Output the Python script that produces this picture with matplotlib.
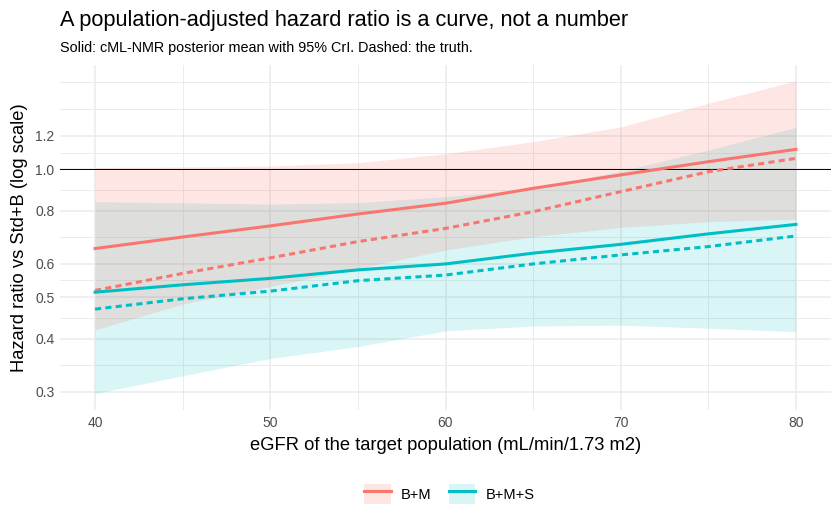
import matplotlib
matplotlib.use("Agg")
import matplotlib.pyplot as plt
from matplotlib.lines import Line2D
from matplotlib.patches import Patch
from matplotlib.ticker import FixedLocator, NullFormatter

plt.rcParams['font.family'] = ['Liberation Sans', 'DejaVu Sans']

# eGFR grid
egfr = [40, 45, 50, 55, 60, 65, 70, 75, 80]

# B+M : posterior mean, 95% CrI, truth
bm_mean = [0.651, 0.693, 0.736, 0.785, 0.832, 0.902, 0.970, 1.042, 1.114]
bm_lo = [0.419, 0.482, 0.530, 0.585, 0.646, 0.694, 0.730, 0.753, 0.763]
bm_hi = [1.010, 1.013, 1.018, 1.036, 1.088, 1.161, 1.258, 1.430, 1.615]
bm_true = [0.519, 0.569, 0.619, 0.676, 0.726, 0.795, 0.886, 0.987, 1.061]

# B+M+S
bms_mean = [0.514, 0.535, 0.554, 0.580, 0.599, 0.635, 0.666, 0.705, 0.742]
bms_lo = [0.297, 0.327, 0.359, 0.383, 0.417, 0.428, 0.430, 0.423, 0.415]
bms_hi = [0.839, 0.834, 0.828, 0.835, 0.862, 0.902, 0.990, 1.110, 1.255]
bms_true = [0.469, 0.496, 0.517, 0.547, 0.564, 0.599, 0.629, 0.658, 0.697]

y_breaks = [0.3, 0.4, 0.5, 0.6, 0.8, 1.0, 1.2]
y_labels = ["0.3", "0.4", "0.5", "0.6", "0.8", "1.0", "1.2"]
y_minor = [0.346, 0.447, 0.548, 0.693, 0.894, 1.095, 1.386, 1.6]

red = "#F8766D"
teal = "#00BFC4"

fig = plt.figure(figsize=(8.4, 5.28), dpi=100)
ax = fig.add_axes([60 / 840, 1 - 410 / 528, 771 / 840, 345 / 528])

ax.fill_between(egfr, bms_lo, bms_hi, color=teal, alpha=0.15, lw=0, zorder=2)
ax.fill_between(egfr, bm_lo, bm_hi, color=red, alpha=0.18, lw=0, zorder=2)
ax.axhline(1.0, color="black", lw=0.7, zorder=3)

ax.plot(egfr, bm_mean, color=red, lw=2.2, zorder=4)
ax.plot(egfr, bm_true, color=red, lw=2.2, dashes=(2, 1.4), zorder=4)
ax.plot(egfr, bms_true, color=teal, lw=2.2, dashes=(2, 1.4), zorder=4)
ax.plot(egfr, bms_mean, color=teal, lw=2.2, zorder=4)

ax.set_yscale("log")
ax.set_xlim(38, 82)
ax.set_ylim(0.2716, 1.759)
ax.yaxis.set_major_locator(FixedLocator(y_breaks))
ax.set_yticklabels(y_labels)
ax.yaxis.set_minor_locator(FixedLocator(y_minor))
ax.yaxis.set_minor_formatter(NullFormatter())
ax.set_xticks([40, 50, 60, 70, 80])
ax.set_xticks([45, 55, 65, 75], minor=True)

ax.grid(True, which="major", color="#EBEBEB", lw=1.1, zorder=0)
ax.grid(True, which="minor", color="#EBEBEB", lw=0.7, zorder=0)
ax.set_axisbelow(True)
for s in ax.spines.values():
    s.set_visible(False)
ax.tick_params(which="both", length=0, labelsize=10, labelcolor="#4D4D4D", pad=4)

ax.set_xlabel("eGFR of the target population (mL/min/1.73 m2)", fontsize=13.2, labelpad=5)
ax.set_ylabel("Hazard ratio vs Std+B (log scale)", fontsize=13.2, labelpad=5)

fig.text(60 / 840, 1 - 26 / 528, "A population-adjusted hazard ratio is a curve, not a number",
         fontsize=15.7, ha="left", va="baseline")
fig.text(60 / 840, 1 - 52 / 528, "Solid: cML-NMR posterior mean with 95% CrI. Dashed: the truth.",
         fontsize=10.4, ha="left", va="baseline")

handles = [
    (Patch(facecolor=red, alpha=0.18, lw=0), Line2D([], [], color=red, lw=2.2)),
    (Patch(facecolor=teal, alpha=0.15, lw=0), Line2D([], [], color=teal, lw=2.2)),
]
fig.legend(handles, ["B+M", "B+M+S"], loc="center", bbox_to_anchor=(0.535, 1 - 494 / 528),
           ncol=2, frameon=False, fontsize=10.5, handlelength=1.8, handleheight=1.8,
           columnspacing=1.2, handletextpad=0.7)

fig.savefig("out.png", dpi=100)
